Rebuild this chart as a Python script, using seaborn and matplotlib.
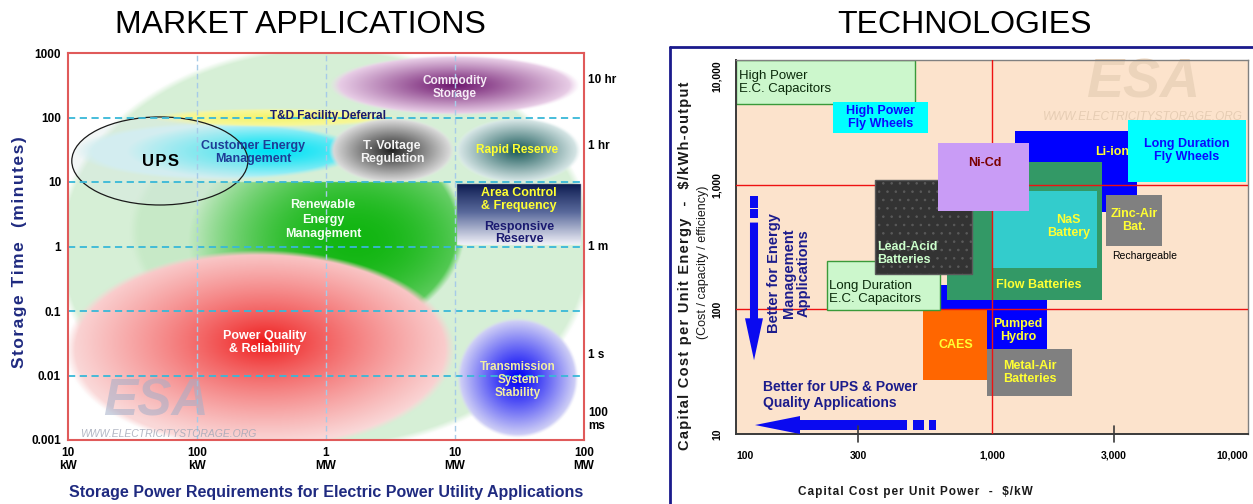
import numpy as np
import matplotlib
matplotlib.use("Agg")
import matplotlib.pyplot as plt
from matplotlib.patches import Rectangle, Ellipse, Polygon
from matplotlib.lines import Line2D
from matplotlib.ticker import FixedLocator, NullLocator
import seaborn as sns

sns.set_theme(style="white")
plt.rcParams["font.family"] = ["Liberation Sans", "DejaVu Sans"]
plt.rcParams["hatch.linewidth"] = 0.6

# ---------------- Market applications: power (kW) x storage time (minutes) ----------------
app_names = ["Utility applications", "Renewable Energy Management",
             "Power Quality & Reliability", "Customer Energy Management",
             "T&D Facility Deferral", "Commodity Storage", "T. Voltage Regulation",
             "Rapid Reserve", "Transmission System Stability"]
app_kw_lo = [7.9, 30, 9.5, 11.3, 43, 1070, 1050, 10000, 10400]
app_kw_hi = [121600, 12000, 10000, 1840, 3750, 93000, 10000, 95000, 91000]
app_min_lo = [0.0007, 0.03, 0.0007, 10.7, 71, 110, 9.6, 9.6, 0.00107]
app_min_hi = [1330, 100, 0.88, 85, 140, 930, 100, 100, 0.078]

area_control_kw = [10400, 94900]
area_control_min = [1.05, 9.3]
ups_kw = [10.7, 248]
ups_min = [4.4, 102]

power_ticks = [10, 100, 1000, 10000, 100000]
power_labels = ["10\nkW", "100\nkW", "1\nMW", "10\nMW", "100\nMW"]
time_ticks = [0.001, 0.01, 0.1, 1, 10, 100, 1000]
time_labels = ["0.001", "0.01", "0.1", "1", "10", "100", "1000"]
duration_marks = [381, 36, 1.0, 0.021, 0.0021]
duration_labels = ["10 hr", "1 hr", "1 m", "1 s", "100\nms"]

# ---------------- Technologies: capital cost per kW x per kWh ----------------
tech_names = ["High Power E.C. Capacitors", "High Power Fly Wheels", "Li-ion",
              "Long Duration Fly Wheels", "Zinc-Air Bat.", "Pumped Hydro", "CAES",
              "Metal-Air Batteries", "Flow Batteries", "NaS Battery",
              "Long Duration E.C. Capacitors", "Lead-Acid Batteries", "Ni-Cd"]
tech_kw_lo = [100, 240, 1230, 3400, 2800, 630, 540, 960, 670, 1010, 227, 350, 615]
tech_kw_hi = [500, 560, 3700, 9800, 4600, 1640, 960, 2050, 2700, 2570, 627, 835, 1400]
tech_kwh_lo = [4400, 2600, 600, 1060, 325, 48, 27, 20, 118, 213, 98, 191, 620]
tech_kwh_hi = [10000, 4600, 2700, 3300, 820, 158, 98, 48, 1530, 895, 242, 1080, 2170]

cost_kw_ticks = [100, 300, 1000, 3000, 10000]
cost_kw_labels = ["100", "300", "1,000", "3,000", "10,000"]
cost_kwh_ticks = [10, 100, 1000, 10000]
cost_kwh_labels = ["10", "100", "1,000", "10,000"]
ref_cost_kw = [1000]
ref_cost_kwh = [100, 1000]

NAVY = "#1f2a80"
YELLOW = "#ffff33"
HAIR = "\u200a"


def spaced(s):
    """Loosen letter spacing with hair spaces."""
    return HAIR.join(s)


W, H = 1253, 504
fig = plt.figure(figsize=(W / 100, H / 100), dpi=100)
fig.patch.set_facecolor("white")

# ======================= left panel =======================
left_rect = [68 / W, 1 - 440 / H, 516 / W, 387 / H]
bg = fig.add_axes(left_rect, zorder=0)
ax = fig.add_axes(left_rect, zorder=1)

gx = np.linspace(1, 5, 1032)
gy = np.linspace(-3, 3, 774)
GX, GY = np.meshgrid(gx, gy)
canvas = np.ones(GX.shape + (3,))

blob_style = {
    "Utility applications": dict(inner="#d6efd6", outer="#d6efd6", power=1.0, soft=0.03),
    "Renewable Energy Management": dict(inner="#12b612", outer="#c8eac8", power=2.0,
                                        soft=0.05, focus=(0.45, -0.15), clip_top=10),
    "Power Quality & Reliability": dict(inner="#ee1010", outer="#fad8d8", power=0.75,
                                        soft=0.05, focus=(0.04, 0.12)),
    "Customer Energy Management": dict(inner="#00e2f4", outer="#d0f2f6", power=1.3,
                                       soft=0.12, focus=(0.4, 0.0)),
    "T&D Facility Deferral": dict(inner="#f4f46a", outer="#f8f8a6", power=1.0, soft=0.25),
    "Commodity Storage": dict(inner="#6e166e", outer="#f2dcf0", power=1.0, soft=0.08),
    "T. Voltage Regulation": dict(inner="#222222", outer="#e8e8e8", power=1.0, soft=0.08),
    "Rapid Reserve": dict(inner="#185858", outer="#e4f0f0", power=1.0, soft=0.08),
    "Transmission System Stability": dict(inner="#0000f5", outer="#dcdcf6", power=1.1,
                                          soft=0.06),
}


def paint(img, kw, mins, inner, outer, power=1.0, soft=0.06, focus=(0, 0), clip_top=None):
    x0, x1 = np.log10(kw)
    y0, y1 = np.log10(mins)
    cx, cy = (x0 + x1) / 2, (y0 + y1) / 2
    rx, ry = (x1 - x0) / 2, (y1 - y0) / 2
    r = np.hypot((GX - cx) / rx, (GY - cy) / ry)
    rf = np.hypot((GX - cx - focus[0]) / rx, (GY - cy - focus[1]) / ry)
    lut = np.array(sns.blend_palette([inner, outer], n_colors=256))
    t = np.clip(rf, 0, 1) ** power
    col = lut[(t * 255).astype(int)]
    a = np.clip((1 - r) / soft, 0, 1)
    if clip_top is not None:
        a = np.where(GY > np.log10(clip_top), 0, a)
    return img * (1 - a[..., None]) + col * a[..., None]


for name, klo, khi, mlo, mhi in zip(app_names, app_kw_lo, app_kw_hi, app_min_lo, app_min_hi):
    canvas = paint(canvas, (klo, khi), (mlo, mhi), **blob_style[name])
    if name == "Rapid Reserve":
        # frequency-regulation box with a navy-to-white vertical fade
        x0, x1 = np.log10(area_control_kw)
        y0, y1 = np.log10(area_control_min)
        inside = (GX >= x0) & (GX <= x1) & (GY >= y0) & (GY <= y1)
        t = np.clip((y1 - GY) / (y1 - y0), 0, 1) ** 0.9
        lut = np.array(sns.blend_palette(["#0b1a4f", "#5a6a9c", "#f4f4fa"], n_colors=256))
        canvas = np.where(inside[..., None], lut[(t * 255).astype(int)], canvas)

bg.imshow(canvas, extent=(1, 5, -3, 3), origin="lower", aspect="auto",
          interpolation="bilinear")
ux0, ux1 = np.log10(ups_kw)
uy0, uy1 = np.log10(ups_min)
bg.add_patch(Ellipse(((ux0 + ux1) / 2, (uy0 + uy1) / 2), ux1 - ux0, uy1 - uy0,
                     facecolor=(0.86, 0.91, 0.91, 0.35), edgecolor="#1a1a1a", lw=0.9))
bg.set_xlim(1, 5)
bg.set_ylim(-3, 3)
bg.axis("off")

ax.set_xscale("log")
ax.set_yscale("log")
ax.set_xlim(10, 1e5)
ax.set_ylim(1e-3, 1e3)
ax.patch.set_visible(False)
for v in [100, 10, 1, 0.1, 0.01]:
    ax.axhline(v, color="#38b8d8", lw=1.3, ls=(0, (4, 2.5)), zorder=2)
for v in [100, 1000, 10000]:
    ax.axvline(v, color="#a6cbe8", lw=1.0, ls=(0, (4, 2.5)), zorder=2)
ax.xaxis.set_major_locator(FixedLocator(power_ticks))
ax.xaxis.set_minor_locator(NullLocator())
ax.yaxis.set_major_locator(FixedLocator(time_ticks))
ax.yaxis.set_minor_locator(NullLocator())
ax.set_xticklabels(power_labels, fontweight="bold", fontsize=8.5, linespacing=1.15)
ax.set_yticklabels(time_labels, fontweight="bold", fontsize=8.5)
ax.tick_params(length=0, labelcolor="black", pad=5)
for s in ax.spines.values():
    s.set_color("#e05a5a")
    s.set_linewidth(1.5)

yax = ax.get_yaxis_transform()
for v, lab in zip(duration_marks, duration_labels):
    ax.text(1.008, v, lab, transform=yax, ha="left", va="center", fontsize=8.5,
            fontweight="bold", color="black", linespacing=1.1)

lbl = dict(ha="center", va="center", fontweight="bold", linespacing=1.1, zorder=5)
ax.text(1e4, 290, "Commodity\nStorage", color="#f6ecf6", fontsize=8.5, **lbl)
ax.text(1040, 105, "T&D Facility Deferral", color="#1a1a6e", fontsize=8.5, **lbl)
ax.text(272, 29, "Customer Energy\nManagement", color="#1e3c96", fontsize=9, **lbl)
ax.text(52, 21, spaced("UPS"), color="black", fontsize=12, **lbl)
ax.text(3250, 29, "T. Voltage\nRegulation", color="#f4f4f4", fontsize=9, **lbl)
ax.text(30200, 31, "Rapid Reserve", color=YELLOW, fontsize=8.5, **lbl)
ax.text(948, 2.6, "Renewable\nEnergy\nManagement", color="#f4fff4", fontsize=9,
        ha="center", va="center", fontweight="bold", linespacing=1.25, zorder=5)
ax.text(31300, 5.3, "Area Control\n& Frequency", color=YELLOW, fontsize=9, **lbl)
ax.text(31300, 1.62, "Responsive\nReserve", color="#1a1a70", fontsize=9, **lbl)
ax.text(336, 0.033, "Power Quality\n& Reliability", color="white", fontsize=9, **lbl)
ax.text(30800, 0.0085, "Transmission\nSystem\nStability", color="#f3efa0", fontsize=8.5,
        **lbl)
ax.text(0.17, 0.098, "ESA", transform=ax.transAxes, ha="center", va="center",
        fontsize=37, fontstyle="italic", fontweight="heavy", color="#a4aec8", alpha=0.55,
        zorder=3)
ax.text(0.195, 0.016, "WWW.ELECTRICITYSTORAGE.ORG", transform=ax.transAxes, ha="center",
        va="center", fontsize=7.5, fontstyle="italic", color="#a0a6b6", alpha=0.8, zorder=3)

fig.text(300 / W, 1 - 25 / H, "MARKET APPLICATIONS", ha="center", va="center",
         fontsize=23, color="black")
fig.text(326 / W, 1 - 492 / H,
         "Storage Power Requirements for Electric Power Utility Applications",
         ha="center", va="center", fontsize=11.5, fontweight="bold", color=NAVY)
fig.text(20 / W, 1 - 252 / H, spaced("Storage Time  (minutes)"), rotation=90,
         ha="center", va="center", fontsize=12.5, fontweight="bold", color=NAVY)

# ======================= right panel =======================
fig.add_artist(Line2D([670 / W, 1.0], [1 - 47 / H] * 2, color="#1a1a8c", lw=2))
fig.add_artist(Line2D([670 / W] * 2, [0, 1 - 47 / H], color="#1a1a8c", lw=2))

ax2 = fig.add_axes([736 / W, 1 - 434 / H, 512 / W, 374 / H])
ax2.set_xscale("log")
ax2.set_yscale("log")
ax2.set_xlim(100, 10000)
ax2.set_ylim(10, 10000)
ax2.set_facecolor("#fce3cc")

tech_style = {
    "High Power E.C. Capacitors": dict(fc="#ccf7cc", ec="#3a9a3a"),
    "High Power Fly Wheels": dict(fc="#00ffff", ec="none"),
    "Li-ion": dict(fc="#0000ff", ec="none"),
    "Long Duration Fly Wheels": dict(fc="#00ffff", ec="none"),
    "Zinc-Air Bat.": dict(fc="#808080", ec="none"),
    "Pumped Hydro": dict(fc="#0000ff", ec="none"),
    "CAES": dict(fc="#ff6600", ec="none"),
    "Metal-Air Batteries": dict(fc="#808080", ec="none"),
    "Flow Batteries": dict(fc="#339966", ec="none"),
    "NaS Battery": dict(fc="#33cccc", ec="none"),
    "Long Duration E.C. Capacitors": dict(fc="#ccf7cc", ec="#3a9a3a"),
    "Lead-Acid Batteries": dict(fc="#333333", ec="#5a5a5a", hatch=".."),
    "Ni-Cd": dict(fc="#c99cf6", ec="none"),
}
tech_label = {
    "High Power E.C. Capacitors": ("High Power\nE.C. Capacitors", 103, 6600, "left", "#0a2a0a", "normal"),
    "High Power Fly Wheels": ("High Power\nFly Wheels", None, None, "center", "#0a0aff", "bold"),
    "Li-ion": ("Li-ion", 2944, 1840, "center", YELLOW, "bold"),
    "Long Duration Fly Wheels": ("Long Duration\nFly Wheels", None, None, "center", "#0a0aff", "bold"),
    "Zinc-Air Bat.": ("Zinc-Air\nBat.", None, None, "center", YELLOW, "bold"),
    "Pumped Hydro": ("Pumped\nHydro", 1264, 68, "center", YELLOW, "bold"),
    "CAES": ("CAES", None, None, "center", YELLOW, "bold"),
    "Metal-Air Batteries": ("Metal-Air\nBatteries", None, None, "center", YELLOW, "bold"),
    "Flow Batteries": ("Flow Batteries", 1528, 156, "center", YELLOW, "bold"),
    "NaS Battery": ("NaS\nBattery", 1996, 461, "center", YELLOW, "bold"),
    "Long Duration E.C. Capacitors": ("Long Duration\nE.C. Capacitors", 231, 137, "left", "#0a2a0a", "normal"),
    "Lead-Acid Batteries": ("Lead-Acid\nBatteries", 356, 281, "left", "#ccffcc", "bold"),
    "Ni-Cd": ("Ni-Cd", 940, 1500, "center", "#7a0000", "bold"),
}
over_ref_lines = {"Lead-Acid Batteries", "Ni-Cd", "Long Duration E.C. Capacitors"}

for i, (name, klo, khi, elo, ehi) in enumerate(zip(tech_names, tech_kw_lo, tech_kw_hi,
                                                   tech_kwh_lo, tech_kwh_hi)):
    st = tech_style[name]
    z = 2 + i * 0.01 + (1 if name in over_ref_lines else 0)
    ax2.add_patch(Rectangle((klo, elo), khi - klo, ehi - elo, facecolor=st["fc"],
                            edgecolor=st["ec"], lw=1.0 if st["ec"] != "none" else 0,
                            hatch=st.get("hatch"), zorder=z))
    text, tx, ty, ha, tc, tw = tech_label[name]
    if tx is None:
        tx, ty = np.sqrt(klo * khi), np.sqrt(elo * ehi)
    ax2.text(tx, ty, text, ha=ha, va="center", color=tc, fontweight=tw,
             fontsize=9.5 if tw == "normal" else 9, linespacing=1.15, zorder=z + 0.005)

for v in ref_cost_kw:
    ax2.axvline(v, color="#ee1111", lw=1.0, zorder=2.8)
for v in ref_cost_kwh:
    ax2.axhline(v, color="#ee1111", lw=1.0, zorder=2.8)

ax2.text(3963, 266, "Rechargeable", ha="center", va="center", fontsize=7.5,
         color="black", zorder=4)

ax2.text(0.795, 0.938, "ESA", transform=ax2.transAxes, ha="center", va="center",
         fontsize=40, fontstyle="italic", fontweight="heavy", color="#ecd4bb", zorder=1)
ax2.text(0.795, 0.848, "WWW.ELECTRICITYSTORAGE.ORG", transform=ax2.transAxes,
         ha="center", va="center", fontsize=8.5, fontstyle="italic", color="#e6cdb4",
         zorder=1)

# direction arrows
BLUE = "#0a0af0"
tA = ax2.transAxes
ax2.add_patch(Polygon([(0.0273, 0.5653), (0.043, 0.5653), (0.043, 0.3093), (0.0527, 0.3093),
                       (0.0352, 0.1973), (0.0176, 0.3093), (0.0273, 0.3093)],
                      closed=True, transform=tA, color=BLUE, lw=0, zorder=6))
ax2.add_patch(Rectangle((0.0273, 0.6053), 0.0157, 0.032, transform=tA, color=BLUE, lw=0, zorder=6))
ax2.add_patch(Rectangle((0.0273, 0.5787), 0.0157, 0.024, transform=tA, color=BLUE, lw=0, zorder=6))
ax2.add_patch(Polygon([(0.334, 0.0374), (0.334, 0.0107), (0.125, 0.0107), (0.125, 0.0),
                       (0.0371, 0.024), (0.125, 0.048), (0.125, 0.0374)],
                      closed=True, transform=tA, color=BLUE, lw=0, zorder=6))
ax2.add_patch(Rectangle((0.3457, 0.0107), 0.0215, 0.0267, transform=tA, color=BLUE, lw=0, zorder=6))
ax2.add_patch(Rectangle((0.377, 0.0107), 0.0136, 0.0267, transform=tA, color=BLUE, lw=0, zorder=6))
ax2.text(0.1035, 0.43, "Better for Energy\nManagement\nApplications", transform=tA,
         rotation=90, ha="center", va="center", fontsize=10.5, fontweight="bold",
         color="#1c1c8c", linespacing=1.1, zorder=6)
ax2.text(0.0527, 0.104, "Better for UPS & Power\nQuality Applications", transform=tA,
         ha="left", va="center", fontsize=10, fontweight="bold", color="#1c1c8c",
         linespacing=1.25, zorder=6)

ax2.xaxis.set_major_locator(FixedLocator(cost_kw_ticks))
ax2.xaxis.set_minor_locator(NullLocator())
ax2.yaxis.set_major_locator(FixedLocator(cost_kwh_ticks))
ax2.yaxis.set_minor_locator(NullLocator())
ax2.set_xticklabels(cost_kw_labels, fontweight="bold", fontsize=7.5)
ax2.set_yticklabels(cost_kwh_labels, fontweight="bold", fontsize=7.5, rotation=90,
                    va="center")
ax2.tick_params(axis="x", length=0, pad=12, labelcolor="black")
ax2.tick_params(axis="y", length=0, pad=10, labelcolor="black")
xt = ax2.get_xticklabels()
xt[0].set_ha("left")
xt[-1].set_ha("right")
yt = ax2.get_yticklabels()
yt[-1].set_va("top")
for name in ["left", "bottom"]:
    ax2.spines[name].set_color("#3a3a3a")
    ax2.spines[name].set_linewidth(1.4)
for name in ["top", "right"]:
    ax2.spines[name].set_color("#808080")
    ax2.spines[name].set_linewidth(1.0)
for v in [300, 3000]:
    ax2.plot([v, v], [8.6, 11.6], color="#3a3a3a", lw=1.2, clip_on=False, zorder=7)

fig.text(965 / W, 1 - 25 / H, "TECHNOLOGIES", ha="center", va="center", fontsize=23,
         color="black")
fig.text(915 / W, 1 - 492 / H, spaced("Capital Cost per Unit Power  -  $/kW"),
         ha="center", va="center", fontsize=8.5, fontweight="bold", color="#1a1a1a")
fig.text(685 / W, 1 - 266 / H, spaced("Capital Cost per Unit Energy  -  $/kWh-output"),
         rotation=90, ha="center", va="center", fontsize=10.5, fontweight="bold",
         color="#1a1a1a")
fig.text(703 / W, 1 - 262 / H, "(Cost / capacity / efficiency)", rotation=90,
         ha="center", va="center", fontsize=9, color="#1a1a1a")

fig.savefig("out.png", dpi=100, facecolor="white")
